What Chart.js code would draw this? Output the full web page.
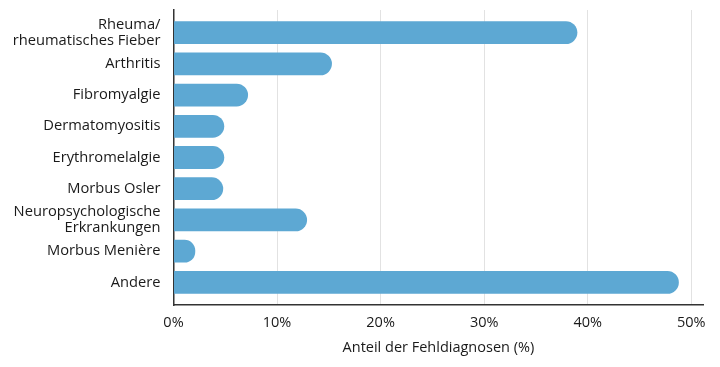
<!DOCTYPE html>
<html>
<head>
<meta charset="utf-8">
<script src="https://cdn.jsdelivr.net/npm/chart.js@4"></script>
<style>
  html, body { margin: 0; padding: 0; background: #fff; }
  #wrap { width: 720px; height: 367px; }
</style>
</head>
<body>
<div id="wrap"><canvas id="myChart"></canvas></div>
<script>
const labels = [
    ['Rheuma/', 'rheumatisches Fieber'],
    'Arthritis',
    'Fibromyalgie',
    'Dermatomyositis',
    'Erythromelalgie',
    'Morbus Osler',
    ['Neuropsychologische', 'Erkrankungen'],
    'Morbus Menière',
    'Andere'
];
const values = [39.0, 15.3, 7.2, 4.9, 4.9, 4.8, 12.9, 2.1, 48.8];
const xTicks = [0, 10, 20, 30, 40, 50];

const ctx = document.getElementById('myChart');
new Chart(ctx, {
    type: 'bar',
    data: {
        labels: labels,
        datasets: [{
            label: '',
            data: values,
            backgroundColor: '#5da8d3',
            borderRadius: 12,
            borderSkipped: 'start',
            barPercentage: 0.73,
            categoryPercentage: 1
        }]
    },
    options: {
        indexAxis: 'y',
        responsive: true,
        maintainAspectRatio: false,
        animation: false,
        layout: { padding: { top: 10, right: 16.7, left: 0, bottom: 0 } },
        plugins: {
            legend: { display: false },
            tooltip: { enabled: false }
        },
        scales: {
            x: {
                min: 0,
                max: 51.16,
                afterBuildTicks: (scale) => {
                    scale.ticks = xTicks.map(v => ({ value: v }));
                },
                afterFit: (scale) => {
                    scale.height = 62;
                    scale.paddingLeft = 0;
                    scale.paddingRight = 0;
                },
                grid: { color: '#e2e2e2', lineWidth: 1, drawTicks: false },
                border: { color: '#333', width: 1.5 },
                ticks: {
                    padding: 9,
                    color: '#1a1a1a',
                    font: { family: 'Open Sans', size: 14.5 },
                    callback: (v) => v + '%'
                },
                title: {
                    display: true,
                    text: 'Anteil der Fehldiagnosen (%)',
                    color: '#1a1a1a',
                    font: { family: 'Open Sans', size: 14.5 },
                    padding: { top: 4, bottom: 10 }
                }
            },
            y: {
                afterFit: (scale) => {
                    scale.width = 173.5;
                    scale.paddingTop = 0;
                    scale.paddingBottom = 0;
                },
                // leave a little space above the first and below the last bar
                afterUpdate: (scale) => {
                    scale._startValue -= 0.224;
                    scale._valueRange += 0.448;
                },
                grid: { display: false, drawTicks: false },
                border: { color: '#333', width: 1.5 },
                ticks: {
                    autoSkip: false,
                    padding: 13,
                    color: '#1a1a1a',
                    font: { family: 'Open Sans', size: 14.7, lineHeight: 1.1 }
                }
            }
        }
    }
});
</script>
</body>
</html>
